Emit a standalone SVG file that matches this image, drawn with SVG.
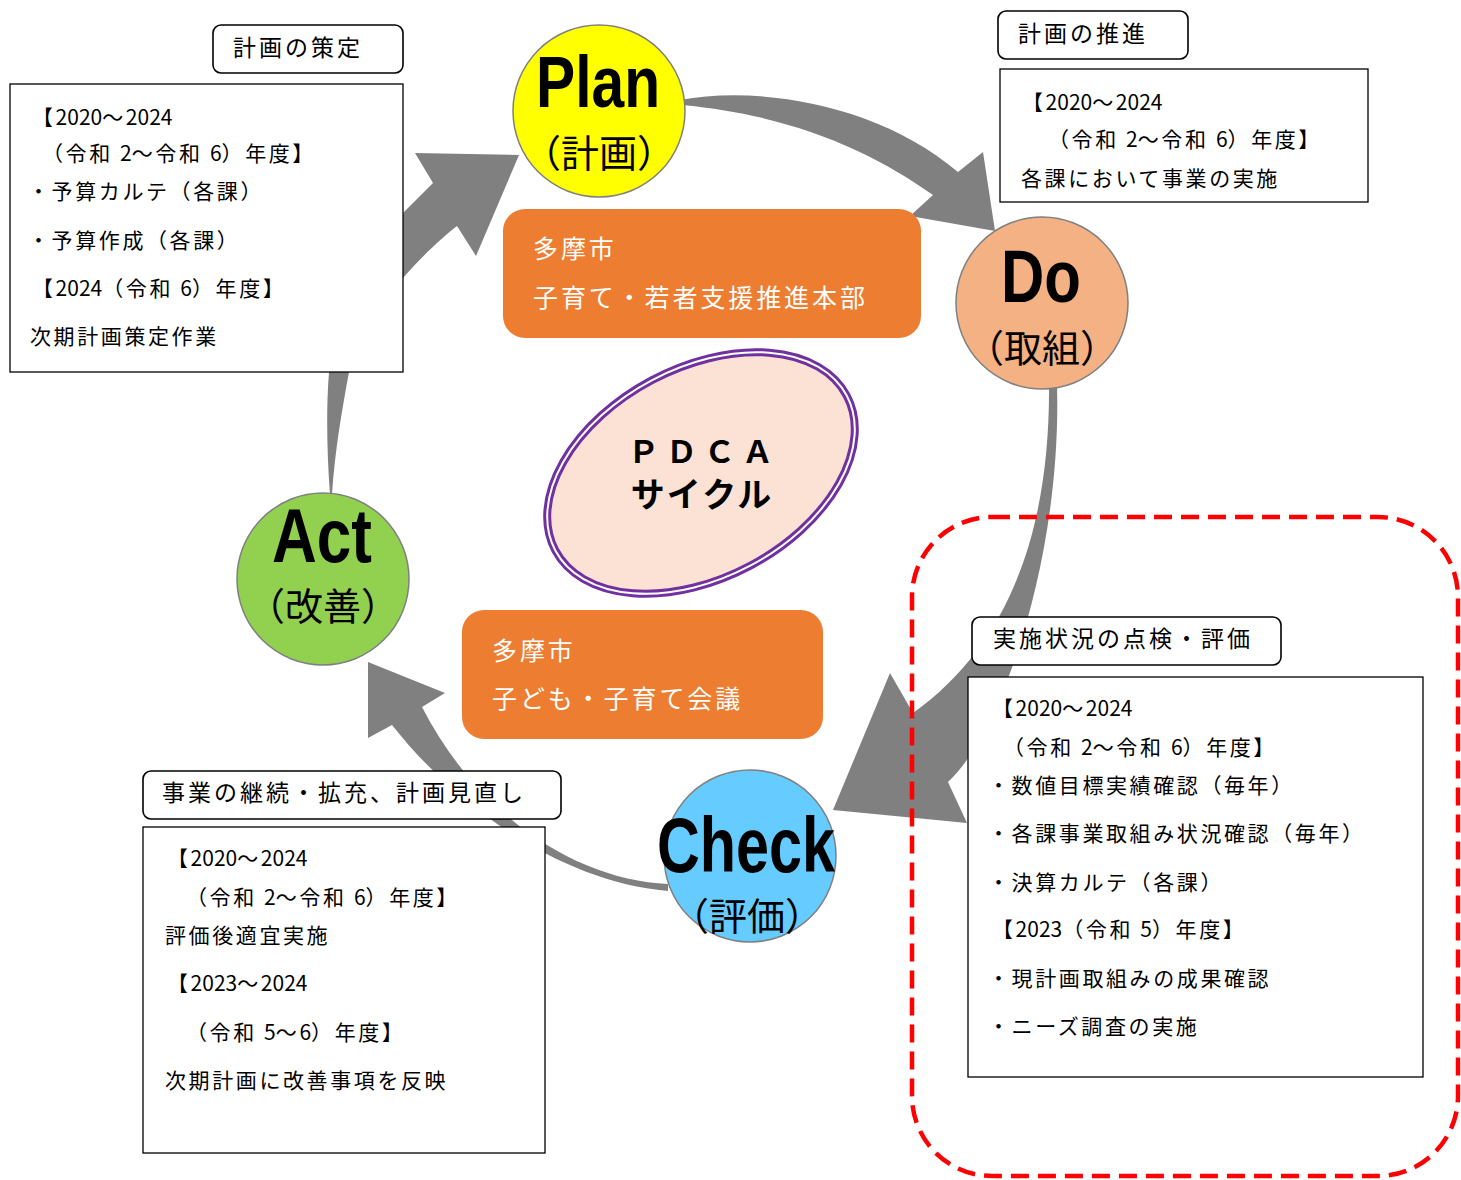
<svg xmlns="http://www.w3.org/2000/svg" width="1461" height="1180" viewBox="0 0 1461 1180">
<style>
.bg{fill:#fff}
.arrow{fill:#808080}
.circ{stroke:#7F7F7F;stroke-width:1.5}
.box{fill:#fff;stroke:#000;stroke-width:1.3}
.lab{fill:#fff;stroke:#000;stroke-width:1.6}
.org{fill:#ED7D31}
.t{font-family:"Noto Sans CJK JP","Noto Sans CJK SC",sans-serif;font-size:21px;letter-spacing:2.6px;fill:#000}
.lt{font-size:23px;letter-spacing:3px}
.d{letter-spacing:0}
.ow{font-family:"Noto Sans CJK JP",sans-serif;font-size:25px;letter-spacing:2.9px;fill:#fff}
.big{font-family:"Liberation Sans",Arial,sans-serif;font-weight:bold;fill:#000}
.jp{font-family:"Noto Sans CJK JP",sans-serif;font-size:38px;fill:#000}
.pd{font-family:"Noto Sans CJK JP",sans-serif;font-weight:bold;fill:#000}
</style>
<rect class="bg" x="0" y="0" width="1461" height="1180"/>

<g id="connectors">
  <path class="arrow" d="M330,494 C327,455 326,410 329,372 C333,320 362,255 403,213 L433,183 L415,153 L519,155 L476,256 L457,226 C420,255 360,318 349,372 C342,410 335,450 332,494 Z"/>
  <path class="arrow" d="M680,100 C760,85 880,105 958,172 L983,152 L995,231 L910,216 L933,195 C870,150 790,115 682,105 Z"/>
  <path class="arrow" d="M1049,385 C1050,520 1015,640 913,713 L890,673 L833,810 L967,823 L948,782 C1000,735 1062,560 1057,385 Z"/>
  <path class="arrow" d="M668,884 C580,880 480,820 422,707 L445,693 L368,662 L368,738 L392,725 C455,805 560,882 668,891 Z"/>
</g>

<g id="node-plan">
  <circle class="circ" cx="599" cy="111" r="86" fill="#FFFF00"/>
  <text class="big" x="598" y="107" font-size="72" text-anchor="middle" textLength="124" lengthAdjust="spacingAndGlyphs">Plan</text>
  <text class="jp" x="599" y="167" text-anchor="middle">（計画）</text>
</g>
<g id="node-do">
  <circle class="circ" cx="1042" cy="303" r="86" fill="#F4B183"/>
  <text class="big" x="1041" y="302" font-size="74" text-anchor="middle" textLength="80" lengthAdjust="spacingAndGlyphs">Do</text>
  <text class="jp" x="1042" y="362" text-anchor="middle">（取組）</text>
</g>
<g id="node-act">
  <circle class="circ" cx="323" cy="579" r="86" fill="#92D050"/>
  <text class="big" x="322" y="562" font-size="76" text-anchor="middle" textLength="100" lengthAdjust="spacingAndGlyphs">Act</text>
  <text class="jp" x="323" y="620" text-anchor="middle">（改善）</text>
</g>
<g id="node-check">
  <circle class="circ" cx="750" cy="856" r="86" fill="#66CCFF"/>
  <text class="big" x="746" y="872" font-size="78" text-anchor="middle" textLength="178" lengthAdjust="spacingAndGlyphs">Check</text>
  <text class="jp" x="747" y="930" text-anchor="middle">（評価）</text>
</g>

<g id="node-org-honbu">
  <rect class="org" x="503" y="209" width="418" height="129" rx="22"/>
  <text class="ow" x="533" y="258">多摩市</text>
  <text class="ow" x="533" y="307">子育て・若者支援推進本部</text>
</g>
<g id="node-org-kaigi">
  <rect class="org" x="462" y="610" width="361" height="129" rx="22"/>
  <text class="ow" x="492" y="660">多摩市</text>
  <text class="ow" x="492" y="708">子ども・子育て会議</text>
</g>

<g id="node-pdca">
  <ellipse cx="701" cy="473" rx="165" ry="105" transform="rotate(-28 701 473)" fill="#FBE2D5" stroke="#7030A0" stroke-width="8"/>
  <ellipse cx="701" cy="473" rx="165" ry="105" transform="rotate(-28 701 473)" fill="none" stroke="#fff" stroke-width="2"/>
  <text class="pd" x="704" y="463" font-size="31" letter-spacing="7" text-anchor="middle">ＰＤＣＡ</text>
  <text class="pd" x="702" y="507" font-size="34" letter-spacing="2" text-anchor="middle">サイクル</text>
</g>

<g id="node-plan-label">
  <rect class="lab" x="213" y="25" width="190" height="48" rx="8"/>
  <text class="t lt" x="233" y="56">計画の策定</text>
</g>
<g id="node-plan-detail">
  <rect class="box" x="10" y="84" width="393" height="288"/>
  <text class="t" x="32" y="125">【<tspan class="d">2020</tspan>～<tspan class="d">2024</tspan></text>
  <text class="t" x="42" y="161">（令和 <tspan class="d">2</tspan>～令和 <tspan class="d">6</tspan>）年度】</text>
  <text class="t" x="28" y="199">・予算カルテ（各課）</text>
  <text class="t" x="28" y="248">・予算作成（各課）</text>
  <text class="t" x="32" y="296">【<tspan class="d">2024</tspan>（令和 <tspan class="d">6</tspan>）年度】</text>
  <text class="t" x="30" y="344">次期計画策定作業</text>
</g>

<g id="node-do-label">
  <rect class="lab" x="998" y="11" width="190" height="48" rx="8"/>
  <text class="t lt" x="1018" y="42">計画の推進</text>
</g>
<g id="node-do-detail">
  <rect class="box" x="1000" y="69" width="368" height="133"/>
  <text class="t" x="1022" y="110">【<tspan class="d">2020</tspan>～<tspan class="d">2024</tspan></text>
  <text class="t" x="1048" y="147">（令和 <tspan class="d">2</tspan>～令和 <tspan class="d">6</tspan>）年度】</text>
  <text class="t" x="1021" y="186">各課において事業の実施</text>
</g>

<g id="node-check-label">
  <rect class="lab" x="972" y="617" width="309" height="48" rx="8"/>
  <text class="t lt" x="993" y="647">実施状況の点検・評価</text>
</g>
<g id="node-check-detail">
  <rect class="box" x="968" y="677" width="455" height="400"/>
  <text class="t" x="992" y="716">【<tspan class="d">2020</tspan>～<tspan class="d">2024</tspan></text>
  <text class="t" x="1003" y="755">（令和 <tspan class="d">2</tspan>～令和 <tspan class="d">6</tspan>）年度】</text>
  <text class="t" x="988" y="793">・数値目標実績確認（毎年）</text>
  <text class="t" x="988" y="841">・各課事業取組み状況確認（毎年）</text>
  <text class="t" x="988" y="890">・決算カルテ（各課）</text>
  <text class="t" x="992" y="937">【<tspan class="d">2023</tspan>（令和 <tspan class="d">5</tspan>）年度】</text>
  <text class="t" x="988" y="986">・現計画取組みの成果確認</text>
  <text class="t" x="988" y="1034">・ニーズ調査の実施</text>
</g>

<g id="node-act-label">
  <rect class="lab" x="143" y="771" width="418" height="48" rx="8"/>
  <text class="t lt" x="162" y="801">事業の継続・拡充、計画見直し</text>
</g>
<g id="node-act-detail">
  <rect class="box" x="143" y="827" width="402" height="326"/>
  <text class="t" x="167" y="866">【<tspan class="d">2020</tspan>～<tspan class="d">2024</tspan></text>
  <text class="t" x="186" y="905">（令和 <tspan class="d">2</tspan>～令和 <tspan class="d">6</tspan>）年度】</text>
  <text class="t" x="165" y="943">評価後適宜実施</text>
  <text class="t" x="167" y="991">【<tspan class="d">2023</tspan>～<tspan class="d">2024</tspan></text>
  <text class="t" x="186" y="1040">（令和 <tspan class="d">5</tspan>～<tspan class="d">6</tspan>）年度】</text>
  <text class="t" x="165" y="1088">次期計画に改善事項を反映</text>
</g>

<g id="node-check-area">
  <rect x="912" y="517" width="546" height="659" rx="80" fill="none" stroke="#FF0000" stroke-width="4.5" stroke-dasharray="18 9"/>
</g>
</svg>
